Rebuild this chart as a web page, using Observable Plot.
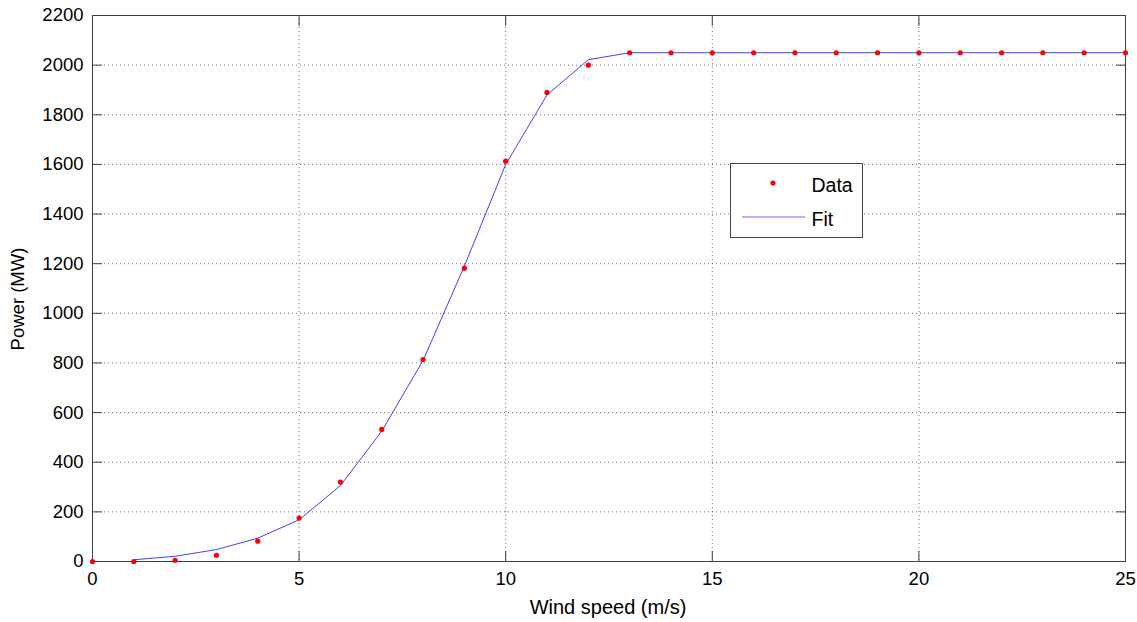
<!DOCTYPE html>
<html>
<head>
<meta charset="utf-8">
<script src="https://cdn.jsdelivr.net/npm/d3@7"></script>
<script src="https://cdn.jsdelivr.net/npm/@observablehq/plot@0.6"></script>
<style>
  html, body { margin: 0; padding: 0; background: #fff; }
  #chart { width: 1137px; height: 622px; position: relative; }
  svg { font-family: "Liberation Sans", Arial, sans-serif; }
</style>
</head>
<body>
<div id="chart"></div>
<script>
// Observed data points (red dots)
const dataSpeed = [0,1,2,3,4,5,6,7,8,9,10,11,12,13,14,15,16,17,18,19,20,21,22,23,24,25];
const dataPower = [0,0,5,25,82,175,320,532,814,1182,1613,1890,2000,2050,2050,2050,2050,2050,2050,2050,2050,2050,2050,2050,2050,2050];

// Fitted curve (blue line)
const fitSpeed = [1,2,3,4,5,6,7,8,9,10,11,12,13,14,15,16,17,18,19,20,21,22,23,24,25];
const fitPower = [7,21,48,94,168,306,525,810,1190,1600,1880,2022,2050,2050,2050,2050,2050,2050,2050,2050,2050,2050,2050,2050,2050];

const xTicks = [0,5,10,15,20,25];
const yTicks = [0,200,400,600,800,1000,1200,1400,1600,1800,2000,2200];

const legendItems = ["Data", "Fit"];

const points = dataSpeed.map((s, i) => ({speed: s, power: dataPower[i]}));
const fit = fitSpeed.map((s, i) => ({speed: s, power: fitPower[i]}));

const frameColor = "#404040";
const fmt = d => String(d);

const plot = Plot.plot({
  width: 1137,
  height: 622,
  marginLeft: 92,
  marginRight: 12,
  marginTop: 15,
  marginBottom: 61,
  style: {fontFamily: "'Liberation Sans', Arial, sans-serif", fontSize: "18px", color: "#000", background: "#fff"},
  x: {domain: [0, 25], ticks: xTicks},
  y: {domain: [0, 2200], ticks: yTicks},
  marks: [
    Plot.gridX(xTicks, {stroke: "#555", strokeOpacity: 0.85, strokeDasharray: "1,3"}),
    Plot.gridY(yTicks, {stroke: "#555", strokeOpacity: 0.85, strokeDasharray: "1,3"}),
    // inward tick marks on all four sides
    Plot.axisX(xTicks, {anchor: "bottom", tickSize: -10, fill: "none", stroke: frameColor, label: null}),
    Plot.axisX(xTicks, {anchor: "top", tickSize: -10, fill: "none", stroke: frameColor, label: null}),
    Plot.axisY(yTicks, {anchor: "left", tickSize: -10, fill: "none", stroke: frameColor, label: null}),
    Plot.axisY(yTicks, {anchor: "right", tickSize: -10, fill: "none", stroke: frameColor, label: null}),
    // tick labels
    Plot.axisX(xTicks, {anchor: "bottom", tickSize: 0, tickPadding: 10, stroke: "none", fill: "#000", fontSize: 18.5, tickFormat: fmt, label: null}),
    Plot.axisY(yTicks, {anchor: "left", tickSize: 0, tickPadding: 9, stroke: "none", fill: "#000", fontSize: 18.5, tickFormat: fmt, label: null}),
    Plot.frame({stroke: frameColor, strokeWidth: 1}),
    Plot.line(fit, {x: "speed", y: "power", stroke: "#0000ff", strokeWidth: 1, strokeOpacity: 0.75}),
    Plot.dot(points, {x: "speed", y: "power", r: 2.6, fill: "#ff0000", stroke: "none"})
  ]
});

const container = document.getElementById("chart");
container.appendChild(plot);

// Axis titles and legend as SVG text in the same svg
const svg = d3.select(plot);
svg.append("text")
  .attr("x", 608).attr("y", 614)
  .attr("text-anchor", "middle")
  .style("font-size", "20px").style("fill", "#000")
  .text("Wind speed (m/s)");
svg.append("text")
  .attr("transform", "translate(24,299) rotate(-90)")
  .attr("text-anchor", "middle")
  .style("font-size", "18.5px").style("fill", "#000")
  .text("Power (MW)");

// Legend box
const lg = svg.append("g").attr("transform", "translate(730,163)");
lg.append("rect").attr("x", 0.5).attr("y", 0.5).attr("width", 132).attr("height", 74)
  .attr("fill", "#fff").attr("stroke", "#444").attr("stroke-width", 1);
lg.append("circle").attr("cx", 43).attr("cy", 20).attr("r", 2.6).attr("fill", "#ff0000");
lg.append("line").attr("x1", 12).attr("x2", 75).attr("y1", 54).attr("y2", 54)
  .attr("stroke", "#0000ff").attr("stroke-opacity", 0.4).attr("stroke-width", 1.5);
lg.append("text").attr("x", 81.5).attr("y", 28.5).attr("text-anchor", "start").style("font-size", "19.5px").style("fill", "#000").text(legendItems[0]);
lg.append("text").attr("x", 81.5).attr("y", 63).attr("text-anchor", "start").style("font-size", "19.5px").style("fill", "#000").text(legendItems[1]);
</script>
</body>
</html>
